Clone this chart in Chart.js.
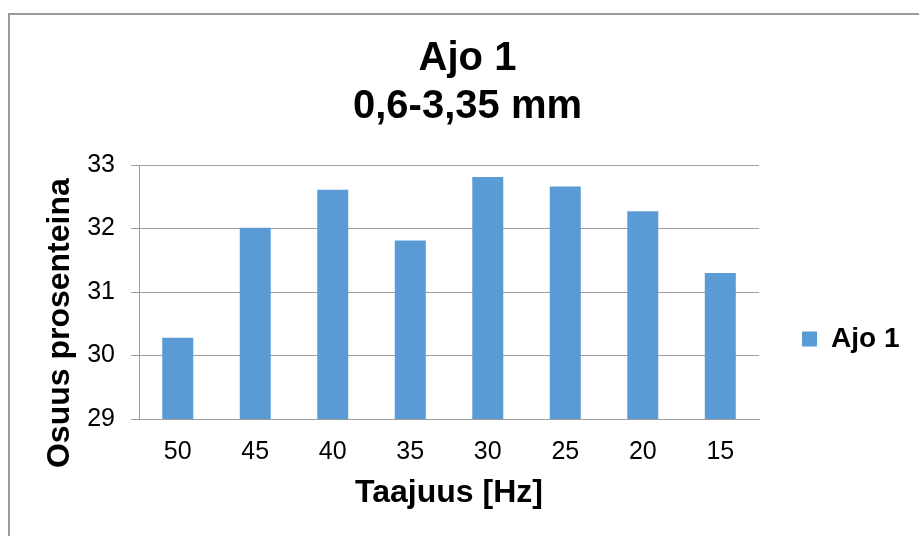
<!DOCTYPE html>
<html>
<head>
<meta charset="utf-8">
<script src="https://cdn.jsdelivr.net/npm/chart.js@4"></script>
<style>
  html, body { margin: 0; padding: 0; background: #ffffff; overflow: hidden; }
  #wrap { position: relative; width: 919px; height: 536px; }
  #frame { position: absolute; left: 8px; top: 13px; width: 1000px; height: 700px;
           border: 2px solid #9b9b9b; box-sizing: border-box; }
  canvas { position: absolute; left: 0; top: 0; }
</style>
</head>
<body>
<div id="wrap">
  <div id="frame"></div>
  <canvas id="c" width="919" height="536"></canvas>
</div>
<script>
const categories = ['50', '45', '40', '35', '30', '25', '20', '15'];
const seriesName = 'Ajo 1';
const seriesValues = [30.28, 32.01, 32.61, 31.81, 32.81, 32.66, 32.27, 31.30];
const titleLines = ['Ajo 1', '0,6-3,35 mm'];
const xTitle = 'Taajuus [Hz]';
const yTitle = 'Osuus prosenteina';
const yMin = 29, yMax = 33, yStep = 1;

const FONT = "'Liberation Sans', Arial, sans-serif";
const GRID = '#9e9e9e';

new Chart(document.getElementById('c'), {
  type: 'bar',
  data: {
    labels: categories,
    datasets: [{
      label: seriesName,
      data: seriesValues,
      backgroundColor: '#5B9BD5',
      borderWidth: 0,
      categoryPercentage: 1.0,
      barPercentage: 0.4
    }]
  },
  options: {
    responsive: false,
    animation: false,
    devicePixelRatio: 1,
    layout: { padding: { left: 25.5, right: 9.5, top: 0, bottom: 23 } },
    plugins: {
      title: {
        display: true,
        text: titleLines,
        color: '#000',
        font: { family: FONT, size: 40, weight: 'bold', lineHeight: 1.2 },
        padding: { top: 34.5, bottom: 34.5 }
      },
      legend: {
        display: true,
        position: 'right',
        align: 'center',
        title: {
          display: true,
          text: '',
          font: { family: FONT, size: 12, lineHeight: 1.2 },
          padding: { top: 150.6, bottom: 0 }
        },
        labels: {
          color: '#000',
          font: { family: FONT, size: 28, weight: 'bold' },
          boxWidth: 15,
          boxHeight: 15,
          padding: 43
        }
      },
      tooltip: { enabled: false }
    },
    scales: {
      x: {
        grid: { display: false, drawTicks: false },
        border: { display: true, color: GRID, width: 1 },
        ticks: { color: '#000', font: { family: FONT, size: 25 }, padding: 18, maxRotation: 0 },
        title: {
          display: true, text: xTitle, color: '#000',
          font: { family: FONT, size: 32, weight: 'bold', lineHeight: 1.2 },
          padding: { top: 0, bottom: 1 }
        },
        afterFit: s => { s.height = 94; }
      },
      y: {
        min: yMin, max: yMax,
        ticks: { stepSize: yStep, color: '#000', font: { family: FONT, size: 25 }, padding: 16 },
        grid: { color: GRID, lineWidth: 1, drawTicks: true, tickLength: 8, tickColor: GRID },
        border: { display: true, color: GRID, width: 1 },
        title: {
          display: true, text: yTitle + '       ', color: '#000',
          font: { family: FONT, size: 32, weight: 'bold', lineHeight: 1.2 },
          padding: { top: 15.3, bottom: 0 }
        },
        afterFit: s => { s.width = 113.5; }
      }
    }
  }
});
</script>
</body>
</html>
